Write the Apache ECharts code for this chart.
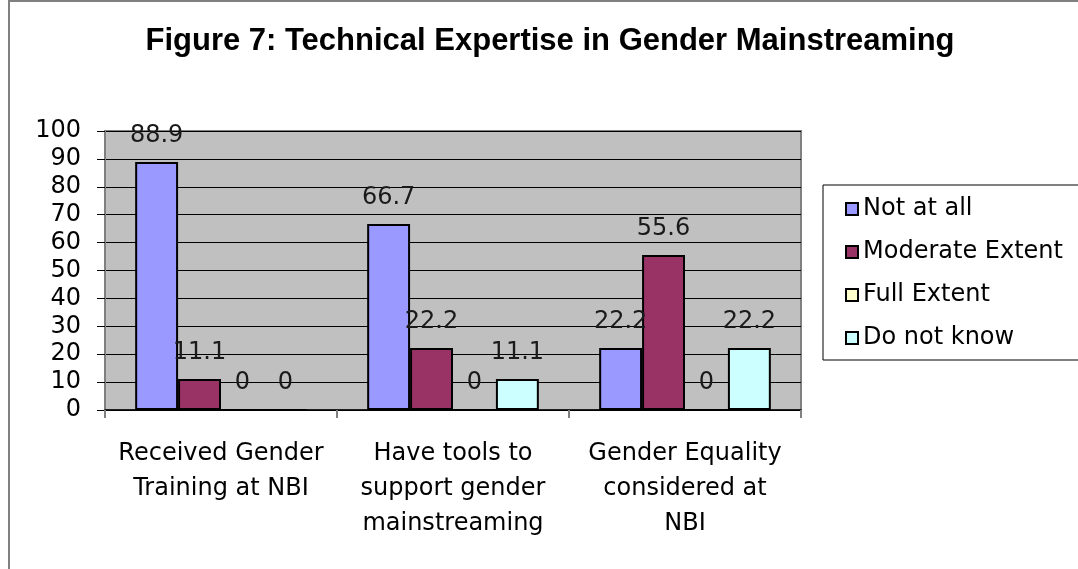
<!DOCTYPE html>
<html>
<head>
<meta charset="utf-8">
<script src="https://cdn.jsdelivr.net/npm/echarts@6/dist/echarts.min.js"></script>
<style>
  html, body { margin: 0; padding: 0; background: #fff; }
  #chart { width: 1078px; height: 569px; }
</style>
</head>
<body>
<div id="chart"></div>
<script>
var categories = ['Received Gender\nTraining at NBI', 'Have tools to\nsupport gender\nmainstreaming', 'Gender Equality\nconsidered at\nNBI'];
var seriesNames = ['Not at all', 'Moderate Extent', 'Full Extent', 'Do not know'];
var notAtAll = [88.9, 66.7, 22.2];
var moderate = [11.1, 22.2, 55.6];
var fullExtent = [0, 0, 0];
var doNotKnow = [0, 11.1, 22.2];
var colors = ['#9999ff', '#993366', '#ffffcc', '#ccffff'];

var font = 'DejaVu Sans';
var values = [notAtAll, moderate, fullExtent, doNotKnow];

var series = values.map(function(v, i) {
  return {
    name: seriesNames[i],
    type: 'bar',
    data: v,
    barGap: '0%',
    barCategoryGap: '26%',
    itemStyle: { color: colors[i], borderColor: '#000', borderWidth: 2 },
    label: {
      show: true,
      position: 'top',
      distance: 14,
      color: '#1a1a1a',
      fontFamily: font,
      fontSize: 24
    }
  };
});

var chart = echarts.init(document.getElementById('chart'));
chart.setOption({
  animation: false,
  backgroundColor: '#fff',
  title: {
    text: 'Figure 7: Technical Expertise in Gender Mainstreaming',
    left: 545,
    textAlign: 'center',
    top: 21,
    textStyle: { fontFamily: 'Liberation Sans', fontWeight: 'bold', fontSize: 31, color: '#000' }
  },
  graphic: [{
    type: 'rect',
    shape: { x: 9, y: 1, width: 1200, height: 700 },
    style: { fill: 'none', stroke: '#808080', lineWidth: 2 },
    silent: true
  }],
  legend: {
    orient: 'vertical',
    left: 823,
    top: 185,
    padding: [12, 80, 10, 22],
    itemGap: 19,
    itemWidth: 12,
    itemHeight: 12,
    icon: 'rect',
    borderColor: '#000',
    borderWidth: 1,
    backgroundColor: '#fff',
    textStyle: { fontFamily: font, fontSize: 24, color: '#000', padding: [0, 0, 0, 0] },
    data: seriesNames
  },
  grid: {
    left: 105,
    right: 277,
    top: 131,
    bottom: 159,
    show: true,
    backgroundColor: '#c0c0c0',
    borderColor: '#808080',
    borderWidth: 2
  },
  xAxis: {
    type: 'category',
    data: categories,
    axisLine: { lineStyle: { color: '#000', width: 1.5 } },
    axisTick: { show: true, length: 8, lineStyle: { color: '#808080', width: 2 } },
    axisLabel: {
      fontFamily: font,
      fontSize: 24,
      color: '#000',
      lineHeight: 35,
      margin: 26,
      interval: 0
    }
  },
  yAxis: {
    type: 'value',
    min: 0,
    max: 100,
    interval: 10,
    axisLine: { show: true, lineStyle: { color: '#808080', width: 2 } },
    axisTick: { show: true, length: 8, lineStyle: { color: '#000' } },
    splitLine: { lineStyle: { color: '#000', width: 1 } },
    axisLabel: { fontFamily: font, fontSize: 24, color: '#000', margin: 24 }
  },
  series: series
});
</script>
</body>
</html>
